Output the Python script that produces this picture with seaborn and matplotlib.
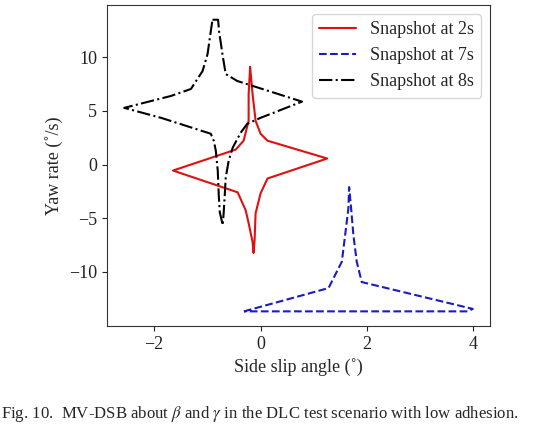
import numpy as np
import matplotlib
matplotlib.use("Agg")
import matplotlib.pyplot as plt
import seaborn as sns

# snapshot boundaries (side slip angle in deg, yaw rate in deg/s)
red_x = [-0.196, -0.150, -0.093, 0.0, 0.131, 1.252, 0.131, 0.0, -0.093, -0.112, -0.131,
         -0.150, -0.224, -0.280, -0.430, -1.645, -0.467, -0.318, -0.224, -0.224, -0.196]
red_y = [9.07, 6.57, 4.07, 2.87, 2.22, 0.56, -1.30, -2.69, -4.54, -7.04, -8.24,
         -7.22, -5.46, -4.26, -2.59, -0.56, 1.39, 2.22, 4.07, 6.57, 9.07]

blue_x = [-0.312, 1.277, 1.527, 1.589, 1.650, 1.664, 1.701, 1.744, 1.807, 1.901,
          3.987, 3.888, -0.280, -0.312]
blue_y = [-13.68, -11.51, -9.05, -6.57, -4.10, -2.10, -4.07, -6.57, -9.05, -10.95,
          -13.45, -13.68, -13.68, -13.68]

black_x = [-0.903, -0.798, -0.779, -0.716, -0.654, -0.436, 0.779, 0.0, -0.249, -0.374,
           -0.523, -0.598, -0.654, -0.673, -0.692, -0.710, -0.766, -0.785, -0.804,
           -0.841, -0.879, -0.935, -1.869, -2.561, -1.682, -1.308, -1.090, -0.996,
           -0.935, -0.903]
black_y = [13.49, 13.49, 12.41, 10.28, 8.43, 7.78, 5.86, 4.35, 3.80, 2.96,
           1.57, 0.37, -1.20, -2.87, -4.44, -5.65, -4.44, -2.87, -0.56,
           1.30, 2.22, 2.87, 4.35, 5.28, 6.39, 7.04, 8.70, 10.28,
           12.41, 13.49]

labels = ["Snapshot at 2s", "Snapshot at 7s", "Snapshot at 8s"]

sns.set_style("ticks")
plt.rcParams['font.family'] = ['Liberation Serif', 'DejaVu Serif']
plt.rcParams['mathtext.fontset'] = 'stix'
plt.rcParams['font.size'] = 13

fig = plt.figure(figsize=(5.34, 4.30), dpi=100)
ax = fig.add_axes([0.200, 0.242, 0.718, 0.746])

sns.lineplot(x=red_x, y=red_y, sort=False, estimator=None, ax=ax,
             color="#e01010", lw=1.5, label=labels[0])
sns.lineplot(x=blue_x, y=blue_y, sort=False, estimator=None, ax=ax,
             color="#1a1ac8", lw=1.5, ls="--", label=labels[1])
sns.lineplot(x=black_x, y=black_y, sort=False, estimator=None, ax=ax,
             color="black", lw=1.5, ls="-.", label=labels[2])

ax.set_xticks([-2, 0, 2, 4])
ax.set_yticks([-10, -5, 0, 5, 10])
for sp in ax.spines.values():
    sp.set_color("#333333")
ax.tick_params(colors="#222222", labelsize=13)

ax.set_xlabel("Side slip angle (˚)", fontsize=13)
ax.set_ylabel("Yaw rate (˚/s)", fontsize=13)
ax.legend(loc="upper right", fontsize=13, frameon=True)

fig.text(0.487, 0.037, r"Fig. 10.  MV-DSB about $\beta$ and $\gamma$ in the DLC test scenario with low adhesion.",
         ha="center", va="center", fontsize=12.1)

fig.savefig("out.png", dpi=100)
